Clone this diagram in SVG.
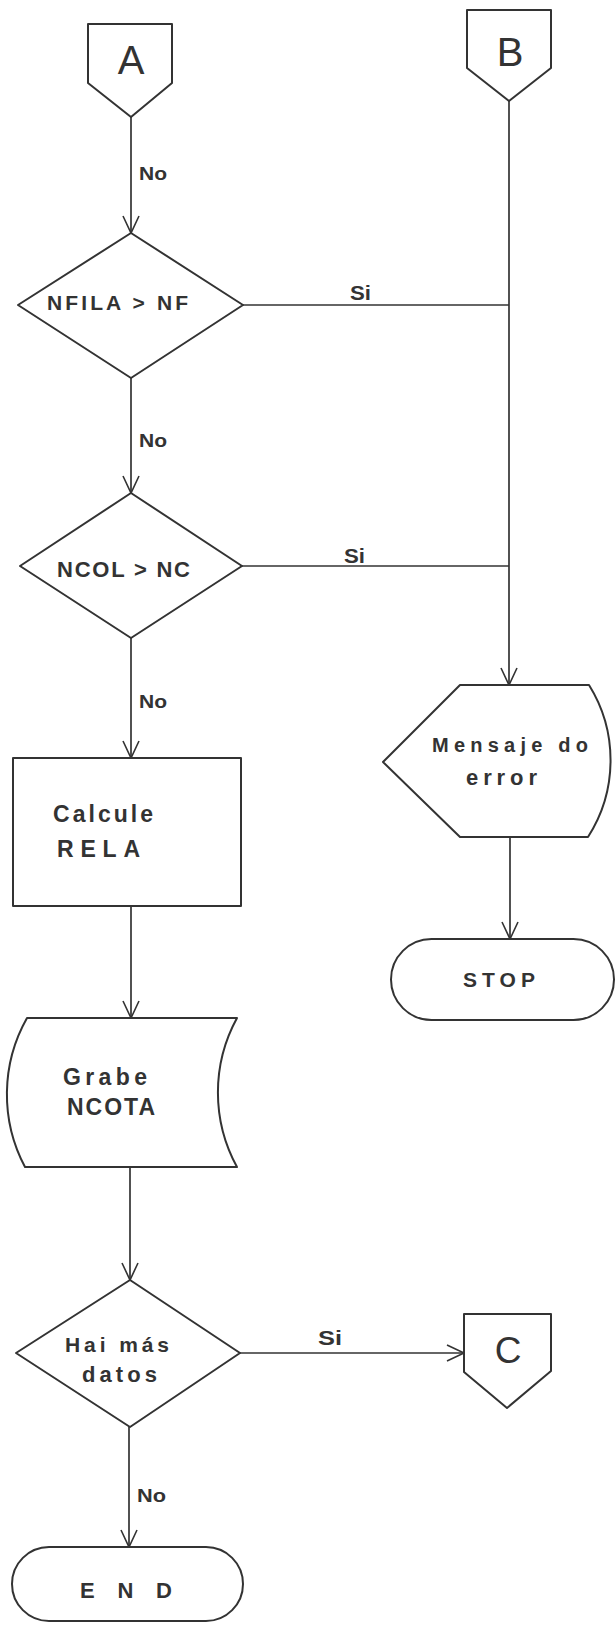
<svg xmlns="http://www.w3.org/2000/svg" width="616" height="1625" viewBox="0 0 616 1625">
  <defs>
    <marker id="arr" markerUnits="userSpaceOnUse" markerWidth="20" markerHeight="20" viewBox="-18 -10 20 20" refX="0" refY="0" orient="auto">
      <path d="M-17,-8 L0,0 L-17,8" fill="none" stroke="#333" stroke-width="1.6"/>
    </marker>
    <style>
      .s{fill:#fff;stroke:#333;stroke-width:2;stroke-linejoin:round}
      .c{fill:none;stroke:#333;stroke-width:1.7}
      .t{font-family:"Liberation Sans","DejaVu Sans",sans-serif;font-weight:bold;fill:#333}
      .n{font-family:"Liberation Sans","DejaVu Sans",sans-serif;font-weight:normal;fill:#333}
    </style>
  </defs>
  <rect width="616" height="1625" fill="#fff"/>

  <g id="connectors">
    <line class="c" x1="131" y1="117" x2="131" y2="233" marker-end="url(#arr)"/>
    <line class="c" x1="131" y1="378" x2="131" y2="493" marker-end="url(#arr)"/>
    <line class="c" x1="131" y1="638" x2="131" y2="758" marker-end="url(#arr)"/>
    <line class="c" x1="131" y1="906" x2="131" y2="1018" marker-end="url(#arr)"/>
    <line class="c" x1="130" y1="1167" x2="130" y2="1280" marker-end="url(#arr)"/>
    <line class="c" x1="129" y1="1427" x2="129" y2="1547" marker-end="url(#arr)"/>
    <line class="c" x1="243" y1="305" x2="509" y2="305"/>
    <line class="c" x1="242" y1="566" x2="509" y2="566"/>
    <line class="c" x1="509" y1="101" x2="509" y2="685" marker-end="url(#arr)"/>
    <line class="c" x1="510" y1="837" x2="510" y2="939" marker-end="url(#arr)"/>
    <line class="c" x1="240" y1="1353" x2="464" y2="1353" marker-end="url(#arr)"/>
    <text class="t" x="139" y="180" font-size="19" textLength="28" lengthAdjust="spacingAndGlyphs">No</text>
    <text class="t" x="139" y="447" font-size="19" textLength="28" lengthAdjust="spacingAndGlyphs">No</text>
    <text class="t" x="139" y="708" font-size="19" textLength="28" lengthAdjust="spacingAndGlyphs">No</text>
    <text class="t" x="137" y="1502" font-size="19" textLength="29" lengthAdjust="spacingAndGlyphs">No</text>
    <text class="t" x="350" y="300" font-size="20" textLength="21" lengthAdjust="spacingAndGlyphs">Si</text>
    <text class="t" x="344" y="563" font-size="20" textLength="21" lengthAdjust="spacingAndGlyphs">Si</text>
    <text class="t" x="318" y="1345" font-size="20" textLength="24" lengthAdjust="spacingAndGlyphs">Si</text>
  </g>

  <g id="connA">
    <path class="s" d="M88,24 L172,24 L172,83 L131,117 L88,83 Z"/>
    <text class="n" x="131" y="74" font-size="40" text-anchor="middle">A</text>
  </g>

  <g id="connB">
    <path class="s" d="M467,10 L551,10 L551,68 L509,101 L467,68 Z"/>
    <text class="n" x="510" y="66" font-size="40" text-anchor="middle">B</text>
  </g>

  <g id="dec1">
    <path class="s" d="M131,233 L243,305 L131,378 L18,305 Z"/>
    <text class="t" x="47" y="310" font-size="21" textLength="141" lengthAdjust="spacing">NFILA &gt; NF</text>
  </g>

  <g id="dec2">
    <path class="s" d="M131,493 L242,566 L131,638 L20,566 Z"/>
    <text class="t" x="57" y="577" font-size="22" textLength="133" lengthAdjust="spacing">NCOL &gt; NC</text>
  </g>

  <g id="calc">
    <rect class="s" x="13" y="758" width="228" height="148"/>
    <text class="t" x="53" y="822" font-size="23" textLength="100" lengthAdjust="spacing">Calcule</text>
    <text class="t" x="57" y="857" font-size="23" textLength="83" lengthAdjust="spacing">RELA</text>
  </g>

  <g id="mensaje">
    <path class="s" d="M460,685 L589,685 A142,142 0 0 1 588,837 L460,837 L383,762 Z"/>
    <text class="t" x="432" y="752" font-size="20" textLength="156" lengthAdjust="spacing">Mensaje do</text>
    <text class="t" x="466" y="785" font-size="22" textLength="71" lengthAdjust="spacing">error</text>
  </g>

  <g id="stop">
    <rect class="s" x="391" y="939" width="223" height="81" rx="40.5" ry="40.5"/>
    <text class="t" x="463" y="987" font-size="21" textLength="72" lengthAdjust="spacing">STOP</text>
  </g>

  <g id="grabe">
    <path class="s" d="M27,1018 L237,1018 A155,155 0 0 0 237,1167 L25,1167 A155,155 0 0 1 27,1018 Z"/>
    <text class="t" x="63" y="1085" font-size="23" textLength="84" lengthAdjust="spacing">Grabe</text>
    <text class="t" x="67" y="1115" font-size="23" textLength="88" lengthAdjust="spacing">NCOTA</text>
  </g>

  <g id="dec3">
    <path class="s" d="M130,1280 L240,1353 L130,1427 L16,1353 Z"/>
    <text class="t" x="65" y="1352" font-size="21" textLength="104" lengthAdjust="spacing">Hai más</text>
    <text class="t" x="82" y="1382" font-size="22" textLength="75" lengthAdjust="spacing">datos</text>
  </g>

  <g id="connC">
    <path class="s" d="M464,1314 L551,1314 L551,1371 L507,1408 L464,1372 Z"/>
    <text class="n" x="508" y="1363" font-size="37" text-anchor="middle">C</text>
  </g>

  <g id="end">
    <rect class="s" x="12" y="1547" width="231" height="74" rx="37" ry="37"/>
    <text class="t" x="80" y="1598" font-size="22" textLength="92" lengthAdjust="spacing">E N D</text>
  </g>
</svg>
